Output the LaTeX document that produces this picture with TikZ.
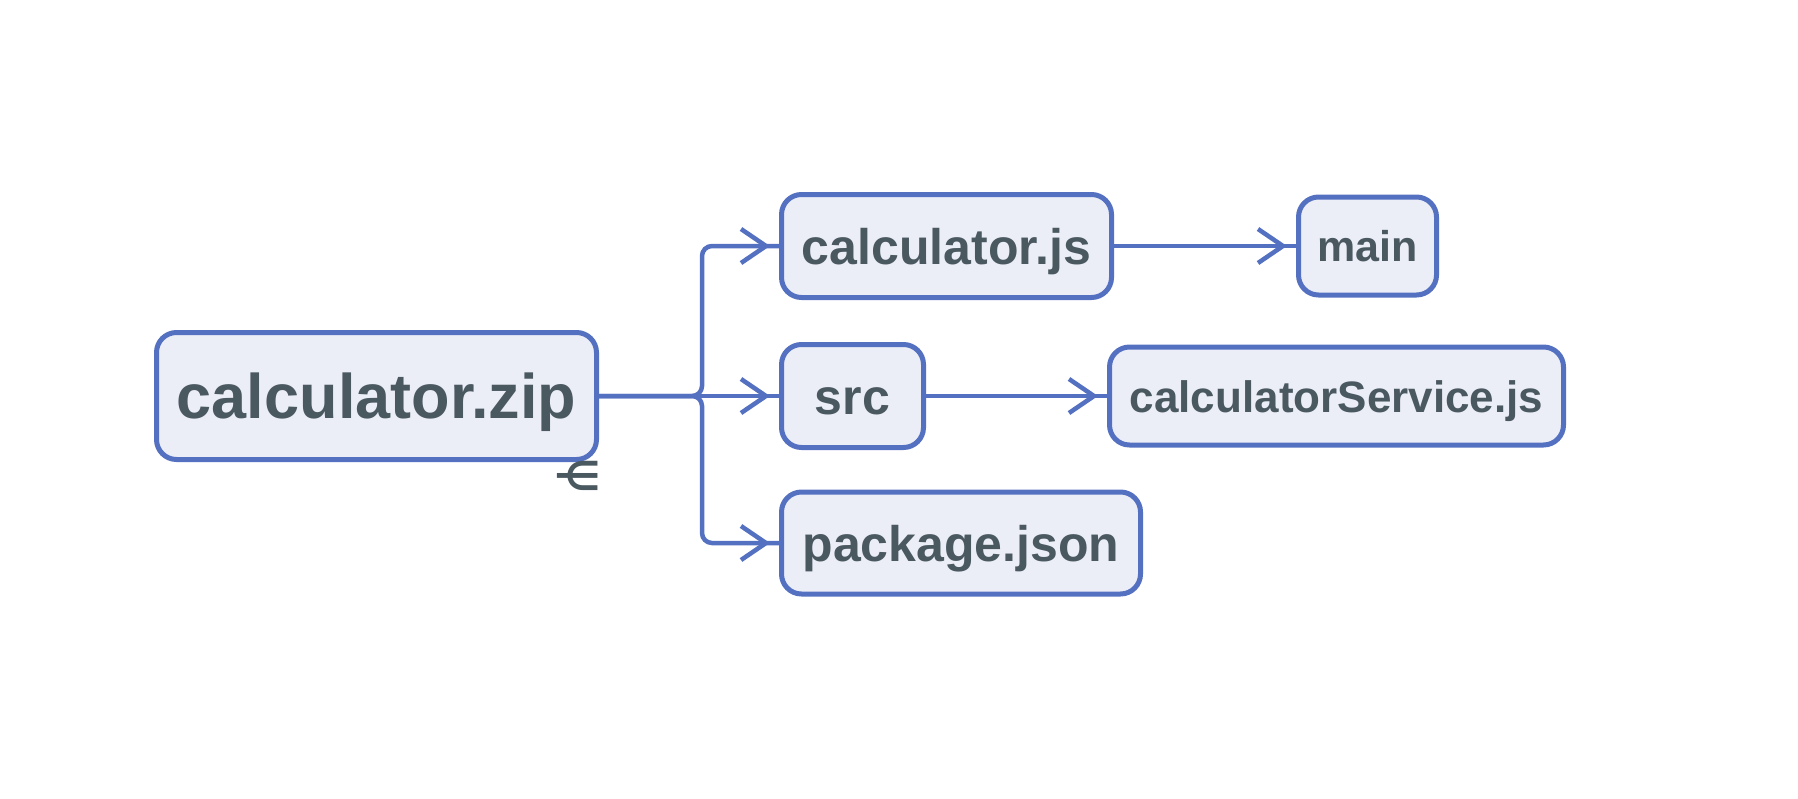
\documentclass[tikz,border=0pt]{standalone}
\usepackage{fontspec}
\setmainfont{Liberation Sans}
\newfontfamily\symfont{DejaVu Sans}
\usetikzlibrary{arrows.meta,decorations.markings}
\definecolor{edgeblue}{RGB}{84,112,192}
\definecolor{boxfill}{RGB}{236,238,247}
\definecolor{txt}{RGB}{74,88,96}
\tikzset{
  filebox/.style={draw=edgeblue, fill=boxfill, line width=5pt, rounded corners=20pt,
    inner sep=0pt, text=txt, font=\bfseries, align=center, text depth=0pt},
  conn/.style={draw=edgeblue, line width=4.5pt, rounded corners=10pt,
    postaction={decorate, decoration={markings,
      mark=at position -9pt with {\arrow[edgeblue, line width=4.5pt]{Straight Barb[length=25pt,width=34pt]}}}}}
}
\begin{document}
\begin{tikzpicture}[x=1pt,y=-1pt]
\useasboundingbox (0,0) rectangle (1798,798);
\node[filebox, minimum width=440pt, minimum height=127pt, text height=45pt, font=\bfseries\fontsize{63}{70}\selectfont] (zip) at (376.5,396) {calculator.zip};
\node[filebox, minimum width=330pt, minimum height=103pt, text height=36pt, font=\bfseries\fontsize{50}{56}\selectfont] (cjs) at (946.5,246) {calculator.js};
\node[filebox, minimum width=138pt, minimum height=98pt, text height=31pt, font=\bfseries\fontsize{43}{48}\selectfont] (main) at (1367.5,246) {main};
\node[filebox, minimum width=142pt, minimum height=103pt, text height=36pt, font=\bfseries\fontsize{50}{56}\selectfont] (src) at (852.5,396) {src};
\node[filebox, minimum width=454pt, minimum height=98pt, text height=32pt, font=\bfseries\fontsize{44}{50}\selectfont] (cs) at (1336.5,396) {calculatorService.js};
\node[filebox, minimum width=359pt, minimum height=102pt, text height=36pt, font=\bfseries\fontsize{50}{56}\selectfont] (pkg) at (961,543) {package.json};
\node[text=txt, inner sep=0pt, font=\symfont\bfseries\fontsize{40}{44}\selectfont] (sym) at (578,476) {⋲};
\coordinate (t1) at (702,396);
\coordinate (t2) at (702,246);
\coordinate (t3) at (702,543);
\path[conn] (zip.east) -- (t1) -- (t2) -- (cjs.west);
\path[conn] (zip.east) -- (src.west);
\path[conn] (zip.east) -- (t1) -- (t3) -- (pkg.west);
\path[conn] (cjs.east) -- (main.west);
\path[conn] (src.east) -- (cs.west);
\end{tikzpicture}
\end{document}
